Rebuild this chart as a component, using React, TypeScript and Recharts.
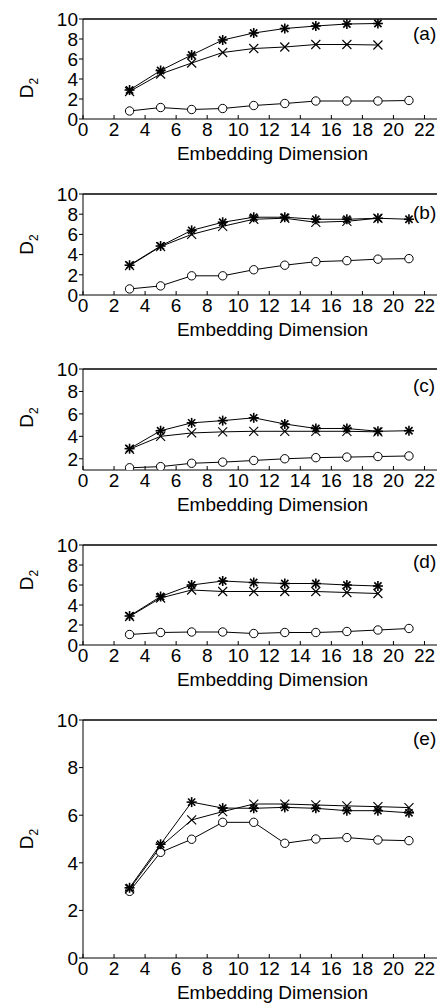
import React from 'react'
import { LineChart, Line, XAxis, YAxis, ReferenceLine } from 'recharts'

const dims = [3, 5, 7, 9, 11, 13, 15, 17, 19, 21]
const dimTicks = [0, 2, 4, 6, 8, 10, 12, 14, 16, 18, 20, 22]
const d2Ticks = [0, 2, 4, 6, 8, 10]
const d2TicksNoZero = [2, 4, 6, 8, 10]
const tags = ['(a)', '(b)', '(c)', '(d)', '(e)']

// (a)
const starA = [2.9, 4.85, 6.4, 7.9, 8.6, 9.05, 9.3, 9.5, 9.55]
const crossA = [2.75, 4.5, 5.6, 6.65, 7.05, 7.2, 7.45, 7.45, 7.4]
const circleA = [0.8, 1.15, 0.95, 1.05, 1.35, 1.55, 1.8, 1.8, 1.8, 1.85]
// (b)
const starB = [2.95, 4.85, 6.4, 7.2, 7.7, 7.7, 7.5, 7.5, 7.6, 7.5]
const crossB = [2.9, 4.8, 6.0, 6.8, 7.5, 7.6, 7.2, 7.3, 7.6]
const circleB = [0.6, 0.9, 1.9, 1.9, 2.5, 2.95, 3.3, 3.4, 3.55, 3.6]
// (c)
const starC = [2.9, 4.5, 5.2, 5.4, 5.65, 5.1, 4.7, 4.7, 4.45, 4.5]
const crossC = [2.85, 4.0, 4.3, 4.4, 4.45, 4.45, 4.45, 4.45, 4.4]
const circleC = [1.2, 1.3, 1.6, 1.7, 1.85, 2.0, 2.1, 2.15, 2.2, 2.25]
// (d)
const starD = [2.9, 4.85, 6.0, 6.4, 6.25, 6.15, 6.15, 6.0, 5.9]
const crossD = [2.85, 4.7, 5.5, 5.35, 5.35, 5.35, 5.35, 5.25, 5.15]
const circleD = [1.05, 1.25, 1.3, 1.3, 1.15, 1.25, 1.25, 1.35, 1.5, 1.65]
// (e)
const starE = [2.95, 4.78, 6.55, 6.3, 6.29, 6.33, 6.29, 6.19, 6.19, 6.1]
const crossE = [2.9, 4.68, 5.8, 6.15, 6.47, 6.47, 6.43, 6.39, 6.36, 6.32]
const circleE = [2.8, 4.44, 4.99, 5.7, 5.7, 4.82, 5.0, 5.06, 4.96, 4.93]

const series = [
  [starA, crossA, circleA],
  [starB, crossB, circleB],
  [starC, crossC, circleC],
  [starD, crossD, circleD],
  [starE, crossE, circleE],
]

// where each plot area sits on the page
const layout = [
  { top: 19, h: 100, yMin: 0, ticks: d2Ticks, labelShift: 19, tagTop: 25 },
  { top: 194, h: 101, yMin: 0, ticks: d2Ticks, labelShift: 0, tagTop: 204 },
  { top: 369, h: 101, yMin: 1, ticks: d2TicksNoZero, labelShift: -2, tagTop: 377 },
  { top: 545, h: 100, yMin: 0, ticks: d2Ticks, labelShift: -15, tagTop: 553 },
  { top: 720, h: 238, yMin: 0, ticks: d2Ticks, labelShift: 0, tagTop: 730 },
]

const FONT = '"Liberation Sans", Arial, sans-serif'
const FS = 19
const INK = '#000'
const PLOT_LEFT = 83
const X_MAX = 23

const StarDot = (p: any) => {
  const { cx, cy, index } = p
  if (cx == null || cy == null) return <g key={`s${index}`} />
  const r = 5
  const d = r * 0.72
  return (
    <g key={`s${index}`} stroke={INK} strokeWidth={1.6}>
      <line x1={cx - r} y1={cy} x2={cx + r} y2={cy} />
      <line x1={cx} y1={cy - r} x2={cx} y2={cy + r} />
      <line x1={cx - d} y1={cy - d} x2={cx + d} y2={cy + d} />
      <line x1={cx - d} y1={cy + d} x2={cx + d} y2={cy - d} />
    </g>
  )
}

const CrossDot = (p: any) => {
  const { cx, cy, index } = p
  if (cx == null || cy == null) return <g key={`x${index}`} />
  const r = 4.5
  return (
    <g key={`x${index}`} stroke={INK} strokeWidth={1.1}>
      <line x1={cx - r} y1={cy - r} x2={cx + r} y2={cy + r} />
      <line x1={cx - r} y1={cy + r} x2={cx + r} y2={cy - r} />
    </g>
  )
}

const CircleDot = (p: any) => {
  const { cx, cy, index } = p
  if (cx == null || cy == null) return <g key={`o${index}`} />
  return <circle key={`o${index}`} cx={cx} cy={cy} r={4.2} fill="#fff" stroke={INK} strokeWidth={1} />
}

const D2Label = (shift: number) => (props: any) => {
  const { viewBox } = props
  const x = 33
  const y = viewBox.y + viewBox.height / 2 + shift
  return (
    <text x={x} y={y} transform={`rotate(-90, ${x}, ${y})`} textAnchor="middle" fontFamily={FONT} fontSize={FS} fill={INK}>
      D<tspan fontSize={12} dy={5}>2</tspan>
    </text>
  )
}

function Panel({ idx }: { idx: number }) {
  const cfg = layout[idx]
  const [star, cross, circle] = series[idx]
  const rows = dims.map((dim, i) => ({ dim, star: star[i], cross: cross[i], circle: circle[i] }))
  const tickStyle = { fontFamily: FONT, fontSize: FS, fill: INK }
  return (
    <div style={{ position: 'absolute', left: 0, top: cfg.top - 10 }}>
      <LineChart width={450} height={cfg.h + 60} data={rows} margin={{ top: 10, right: 10, left: 0, bottom: 0 }}>
        <XAxis
          dataKey="dim"
          type="number"
          domain={[0, X_MAX]}
          ticks={dimTicks}
          interval={0}
          allowDataOverflow
          height={50}
          stroke={INK}
          tickSize={-4}
          tickMargin={8}
          tick={tickStyle}
          label={{ value: 'Embedding Dimension', position: 'insideBottom', offset: 9, dx: 11, style: { fontFamily: FONT, fontSize: FS, fill: INK } }}
        />
        <YAxis
          type="number"
          domain={[cfg.yMin, 10]}
          ticks={cfg.ticks}
          interval={0}
          allowDataOverflow
          width={PLOT_LEFT}
          stroke={INK}
          tickSize={4}
          tickMargin={1}
          tick={tickStyle}
          label={{ content: D2Label(cfg.labelShift) }}
        />
        <ReferenceLine y={10} stroke={INK} strokeWidth={1.3} />
        <ReferenceLine x={X_MAX} stroke={INK} strokeWidth={1.3} />
        <Line dataKey="circle" stroke={INK} strokeWidth={1} dot={CircleDot} isAnimationActive={false} />
        <Line dataKey="cross" stroke={INK} strokeWidth={1} dot={CrossDot} isAnimationActive={false} />
        <Line dataKey="star" stroke={INK} strokeWidth={1} dot={StarDot} isAnimationActive={false} />
      </LineChart>
      <div style={{ position: 'absolute', left: 413, top: cfg.tagTop - cfg.top + 10, fontFamily: FONT, fontSize: FS, lineHeight: '18px', color: INK, whiteSpace: 'nowrap' }}>
        {tags[idx]}
      </div>
    </div>
  )
}

export default function App() {
  return (
    <div style={{ position: 'fixed', left: 0, top: 0, width: 437, height: 1004, overflow: 'hidden', background: '#fff' }}>
      {layout.map((_, i) => (
        <Panel key={i} idx={i} />
      ))}
    </div>
  )
}
